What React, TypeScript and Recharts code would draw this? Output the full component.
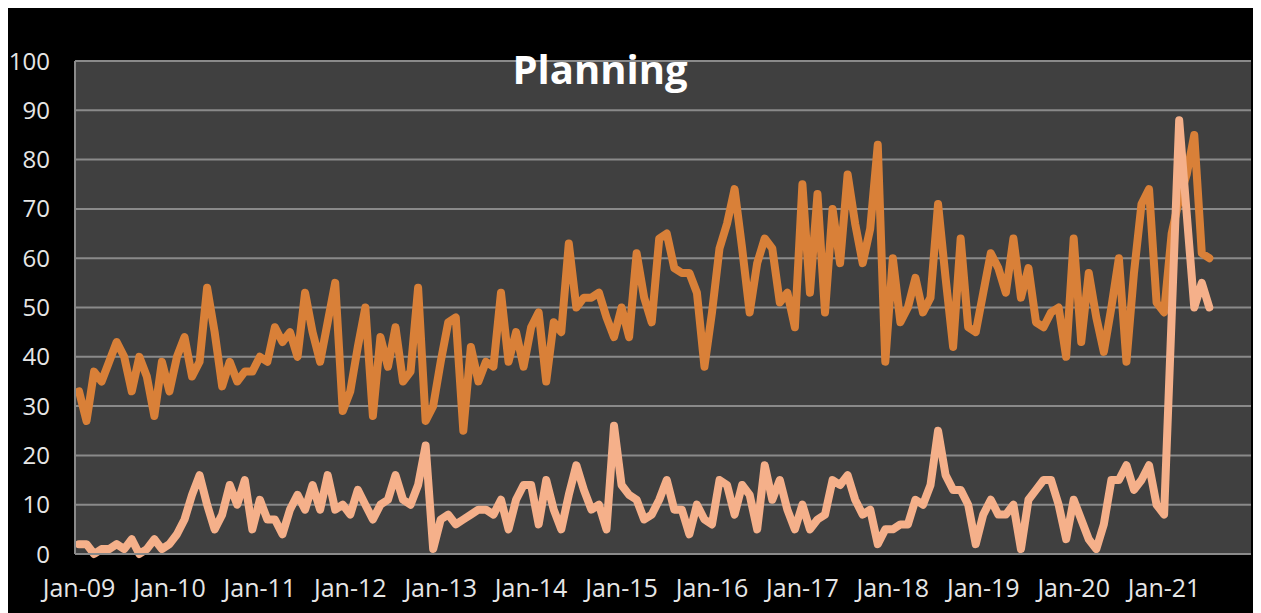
import React from 'react';
import { LineChart, Line, XAxis, YAxis, CartesianGrid } from 'recharts';

const monthNames = ['Jan', 'Feb', 'Mar', 'Apr', 'May', 'Jun', 'Jul', 'Aug', 'Sep', 'Oct', 'Nov', 'Dec'];
const years = ['09', '10', '11', '12', '13', '14', '15', '16', '17', '18', '19', '20', '21'];
const yTicks = [0, 10, 20, 30, 40, 50, 60, 70, 80, 90, 100];

// monthly values, Jan-09 .. Jul-21
const upperSeries = [
  33, 27, 37, 35, 39, 43, 40, 33, 40, 36, 28, 39,
  33, 40, 44, 36, 39, 54, 45, 34, 39, 35, 37, 37,
  40, 39, 46, 43, 45, 40, 53, 45, 39, 47, 55, 29,
  33, 42, 50, 28, 44, 38, 46, 35, 37, 54, 27, 30,
  39, 47, 48, 25, 42, 35, 39, 38, 53, 39, 45, 38,
  46, 49, 35, 47, 45, 63, 50, 52, 52, 53, 48, 44,
  50, 44, 61, 52, 47, 64, 65, 58, 57, 57, 53, 38,
  49, 62, 67, 74, 62, 49, 59, 64, 62, 51, 53, 46,
  75, 53, 73, 49, 70, 59, 77, 67, 59, 66, 83, 39,
  60, 47, 50, 56, 49, 52, 71, 56, 42, 64, 46, 45,
  53, 61, 58, 53, 64, 52, 58, 47, 46, 49, 50, 40,
  64, 43, 57, 48, 41, 50, 60, 39, 57, 71, 74, 51,
  49, 65, 72, 77, 85, 61, 60,
];

const lowerSeries = [
  2, 2, 0, 1, 1, 2, 1, 3, 0, 1, 3, 1,
  2, 4, 7, 12, 16, 10, 5, 8, 14, 10, 15, 5,
  11, 7, 7, 4, 9, 12, 9, 14, 9, 16, 9, 10,
  8, 13, 10, 7, 10, 11, 16, 11, 10, 14, 22, 1,
  7, 8, 6, 7, 8, 9, 9, 8, 11, 5, 11, 14,
  14, 6, 15, 9, 5, 12, 18, 13, 9, 10, 5, 26,
  14, 12, 11, 7, 8, 11, 15, 9, 9, 4, 10, 7,
  6, 15, 14, 8, 14, 12, 5, 18, 11, 15, 9, 5,
  10, 5, 7, 8, 15, 14, 16, 11, 8, 9, 2, 5,
  5, 6, 6, 11, 10, 14, 25, 16, 13, 13, 10, 2,
  8, 11, 8, 8, 10, 1, 11, 13, 15, 15, 10, 3,
  11, 7, 3, 1, 6, 15, 15, 18, 13, 15, 18, 10,
  8, 48, 88, 69, 50, 55, 50,
];

const categories = years.flatMap((y) => monthNames.map((m) => `${m}-${y}`));

const data = categories.map((month, i) => ({
  month,
  upper: upperSeries[i] ?? null,
  lower: lowerSeries[i] ?? null,
}));

const font = '"Open Sans", sans-serif';

export default function App() {
  return (
    <div
      style={{
        position: 'relative',
        width: 1249,
        height: 605,
        marginLeft: -2,
        background: '#000000',
        fontFamily: font,
      }}
    >
      <LineChart width={1249} height={605} data={data} margin={{ top: 53, right: 4, left: 0, bottom: 0 }}>
        <CartesianGrid vertical={false} stroke="#8a8a8a" strokeWidth={2} fill="#404040" />
        <XAxis
          dataKey="month"
          interval={11}
          height={59}
          padding={{ left: 4, right: 4 }}
          axisLine={{ stroke: '#8a8a8a', strokeWidth: 2 }}
          tickLine={false}
          tickSize={0}
          tickMargin={25}
          tick={{ fill: '#e6e6e6', fontSize: 25, fontFamily: font }}
        />
        <YAxis
          domain={[0, 100]}
          ticks={yTicks}
          width={69}
          axisLine={{ stroke: '#8a8a8a', strokeWidth: 2 }}
          tickLine={false}
          tickSize={0}
          tickMargin={25}
          tick={{ fill: '#e6e6e6', fontSize: 24, fontFamily: font }}
        />
        <Line
          type="linear"
          dataKey="upper"
          stroke="#d98038"
          strokeWidth={8}
          strokeLinejoin="round"
          strokeLinecap="round"
          dot={false}
          activeDot={false}
          isAnimationActive={false}
        />
        <Line
          type="linear"
          dataKey="lower"
          stroke="#f5b08a"
          strokeWidth={8}
          strokeLinejoin="round"
          strokeLinecap="round"
          dot={false}
          activeDot={false}
          isAnimationActive={false}
        />
      </LineChart>
      <div
        style={{
          position: 'absolute',
          left: 0,
          width: 1188,
          top: 36,
          textAlign: 'center',
          color: '#ffffff',
          fontWeight: 700,
          fontSize: 40,
          lineHeight: '50px',
        }}
      >
        Planning
      </div>
    </div>
  );
}
